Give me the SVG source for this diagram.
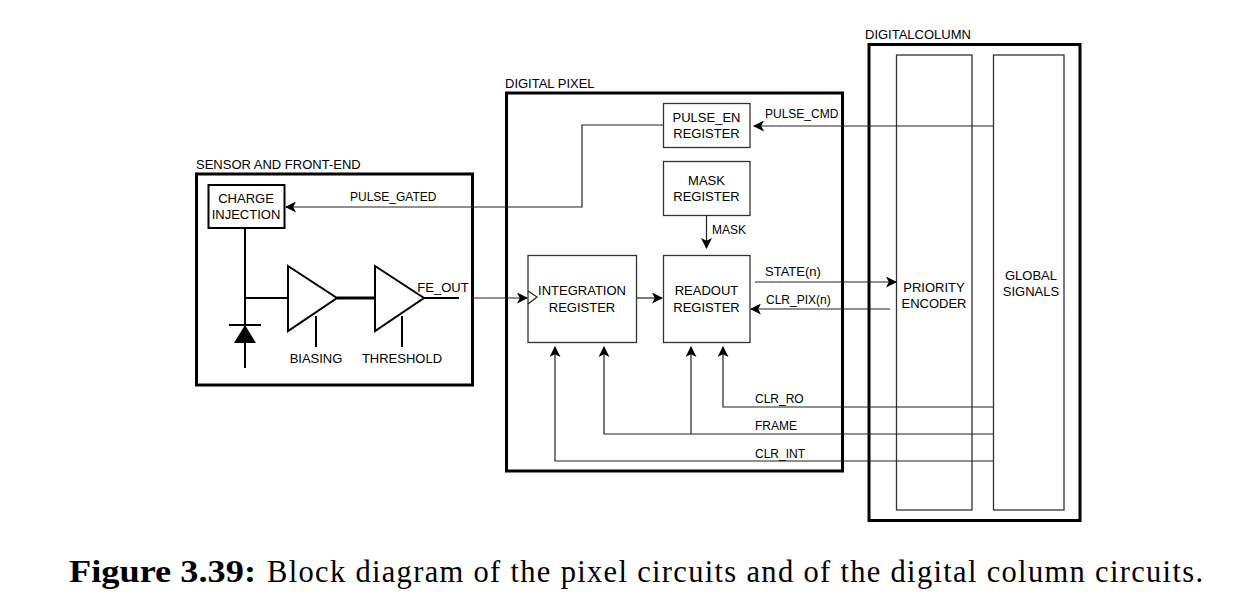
<svg xmlns="http://www.w3.org/2000/svg" width="1250" height="602" viewBox="0 0 1250 602">
<style>
text{font-family:"Liberation Sans",Arial,sans-serif;fill:#000}
.l{font-size:13px}
.m{font-size:13px;text-anchor:middle}
.s{font-size:12px}
.g{font-size:12px}
.box{fill:#fff;stroke:#000;stroke-width:3}
.reg{fill:#fff;stroke:#333;stroke-width:1.3}
.col{fill:none;stroke:#333;stroke-width:1.3}
.w{fill:none;stroke:#222;stroke-width:1.2}
.t{fill:none;stroke:#000;stroke-width:2}
.cap{font-family:"Liberation Serif","Times New Roman",serif;font-size:30.500px}
</style>
<defs>
<marker id="a" viewBox="0 0 11 11" refX="10" refY="5.500" markerWidth="11" markerHeight="11" markerUnits="userSpaceOnUse" orient="auto"><path d="M0 0L11 5.500L0 11L2.800 5.500Z" fill="#000"/></marker>
</defs>
<rect width="1250" height="602" fill="#fff"/>
<g id="sensor">
<rect class="box" x="196.500" y="174" width="276" height="211"/>
<text class="l" x="196" y="169">SENSOR AND FRONT-END</text>
</g>
<g id="pixel">
<rect class="box" x="506.500" y="93" width="336" height="378"/>
<text class="l" x="505" y="88">DIGITAL PIXEL</text>
</g>
<g id="column">
<rect class="box" x="869" y="44.500" width="211" height="476"/>
<text class="l" x="865" y="39">DIGITALCOLUMN</text>
</g>
<g id="priority-encoder">
<rect class="col" x="896.500" y="55" width="75.500" height="455"/>
<text class="m" x="934" y="292">PRIORITY</text><text class="m" x="934" y="308">ENCODER</text>
</g>
<g id="global-signals">
<rect class="col" x="993.500" y="55" width="70.500" height="455"/>
<text class="m" x="1031" y="280">GLOBAL</text><text class="m" x="1031" y="296">SIGNALS</text>
</g>
<g id="charge-injection">
<rect class="t" x="208.500" y="185" width="76" height="43"/>
<text class="m" x="246" y="203">CHARGE</text><text class="m" x="246" y="219">INJECTION</text>
</g>
<g id="amp-biasing">
<path class="t" d="M288 266V331L337 298Z"/>
<text class="m" x="316" y="363">BIASING</text>
</g>
<g id="amp-threshold">
<path class="t" d="M375 266V331L424 298Z"/>
<text class="m" x="402" y="363">THRESHOLD</text>
</g>
<g id="diode">
<path d="M245 325L234 343H256Z" fill="#000"/>
<path class="t" d="M229 325H261"/>
</g>
<g id="pulse-en">
<rect class="reg" x="663.500" y="103.500" width="86.500" height="44"/>
<text class="m" x="706.500" y="122">PULSE_EN</text><text class="m" x="706.500" y="138">REGISTER</text>
</g>
<g id="mask">
<rect class="reg" x="663.500" y="161.500" width="86.500" height="54"/>
<text class="m" x="706.500" y="185">MASK</text><text class="m" x="706.500" y="201">REGISTER</text>
</g>
<g id="integration">
<rect class="reg" x="528" y="255.500" width="108.500" height="87"/>
<path class="w" d="M528 291L537 297L528 304"/>
<text class="m" x="582" y="295">INTEGRATION</text><text class="m" x="582" y="312">REGISTER</text>
</g>
<g id="readout">
<rect class="reg" x="663.500" y="255.500" width="86.500" height="87"/>
<text class="m" x="706.500" y="295">READOUT</text><text class="m" x="706.500" y="312">REGISTER</text>
</g>
<g id="connectors">
<path class="t" d="M245 228V368M245 298H288M424 298H459M316 316V347M402 316V347"/>
<path class="t" style="stroke-width:3" d="M337 298H375"/>
<path class="w" d="M473 298H527" marker-end="url(#a)"/>
<path class="w" d="M663 125H582V207H286" marker-end="url(#a)"/>
<path class="w" d="M993 126H754" marker-end="url(#a)"/>
<path class="w" d="M706.500 215V248" marker-end="url(#a)"/>
<path class="w" d="M636 298H662" marker-end="url(#a)"/>
<path class="w" d="M755 282H896" marker-end="url(#a)"/>
<path class="w" d="M890 309H751" marker-end="url(#a)"/>
<path class="w" d="M993 407H723V347" marker-end="url(#a)"/>
<path class="w" d="M993 434H604V347" marker-end="url(#a)"/>
<path class="w" d="M691 434V347" marker-end="url(#a)"/>
<path class="w" d="M993 461H555V347" marker-end="url(#a)"/>
</g>
<g id="labels">
<text class="g" x="350" y="201">PULSE_GATED</text>
<text class="m" x="443" y="292">FE_OUT</text>
<text class="s" x="765" y="118">PULSE_CMD</text>
<text class="s" x="712" y="234">MASK</text>
<text class="l" x="765" y="276">STATE(n)</text>
<text class="s" x="766" y="304">CLR_PIX(n)</text>
<text class="s" x="755" y="403">CLR_RO</text>
<text class="s" x="755" y="430">FRAME</text>
<text class="s" x="755" y="458">CLR_INT</text>
</g>
<text class="cap" x="69" y="582" font-weight="bold" textLength="187" lengthAdjust="spacingAndGlyphs">Figure 3.39:</text>
<text class="cap" x="267" y="582" textLength="936" lengthAdjust="spacing">Block diagram of the pixel circuits and of the digital column circuits.</text>
</svg>
